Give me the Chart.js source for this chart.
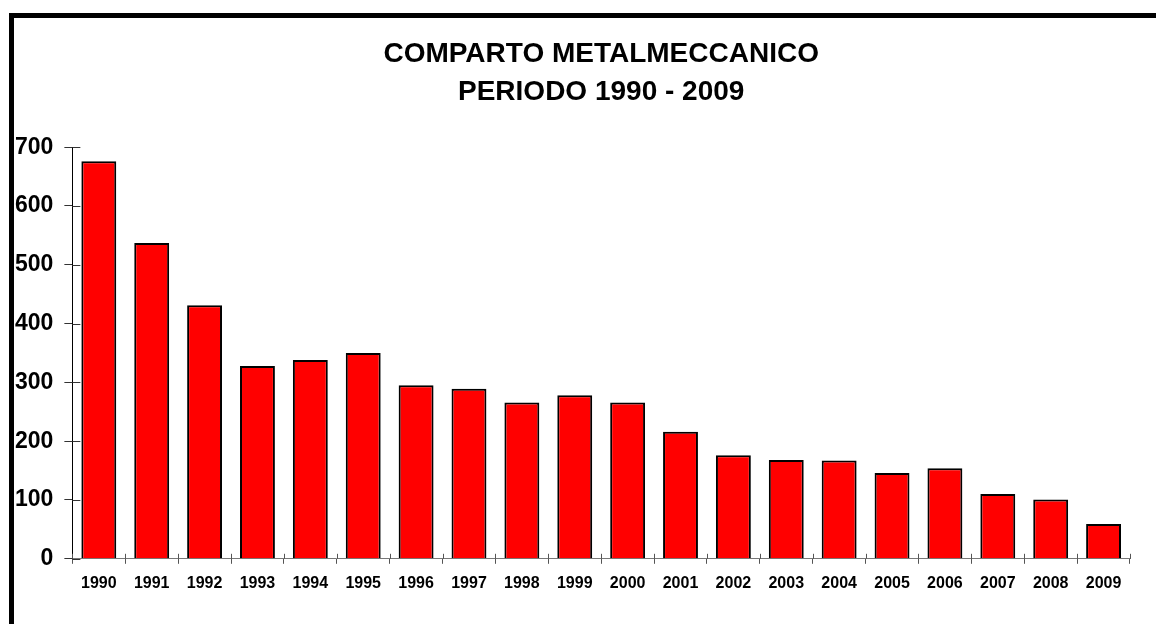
<!DOCTYPE html>
<html>
<head>
<meta charset="utf-8">
<script src="https://cdn.jsdelivr.net/npm/chart.js@4/dist/chart.umd.min.js"></script>
<style>
  html, body { margin: 0; padding: 0; background: #fff; }
  #wrap { position: absolute; left: 0; top: 0; width: 1156px; height: 624px; }
  #frame {
    position: absolute; left: 9px; top: 13px; width: 1200px; height: 700px;
    border-left: 5px solid #000; border-top: 5px solid #000; pointer-events: none;
  }
</style>
</head>
<body>
<div id="wrap"><canvas id="chart"></canvas></div>
<div id="frame"></div>
<script>
var years = ['1990', '1991', '1992', '1993', '1994', '1995', '1996', '1997', '1998', '1999',
             '2000', '2001', '2002', '2003', '2004', '2005', '2006', '2007', '2008', '2009'];
var values = [676, 537, 431, 328, 338, 350, 295, 289, 266, 278,
              266, 216, 176, 168, 167, 146, 154, 110, 101, 59];
var titleLines = ['COMPARTO METALMECCANICO', 'PERIODO 1990 - 2009'];
var yMax = 700;
var yStep = 100;

var font = '"Liberation Sans", Arial, sans-serif';

// tick marks that cross the axis line (Excel style)
var crossTicks = {
    id: 'crossTicks',
    afterDraw: function(chart) {
        var ctx = chart.ctx;
        var x = chart.scales.x, y = chart.scales.y;
        ctx.save();
        ctx.lineWidth = 1;
        ctx.strokeStyle = '#333';
        y.ticks.forEach(function(t, i) {
            var py = Math.round(y.getPixelForTick(i)) + 0.5;
            ctx.beginPath();
            ctx.moveTo(y.right, py);
            ctx.lineTo(y.right + 8, py);
            ctx.stroke();
        });
        ctx.strokeStyle = '#555';
        for (var i = 0; i <= years.length; i++) {
            var px = Math.round(x.left + (x.right - x.left) * i / years.length) + 0.5;
            ctx.beginPath();
            ctx.moveTo(px, x.top - 5);
            ctx.lineTo(px, x.top);
            ctx.stroke();
        }
        ctx.restore();
    }
};

new Chart(document.getElementById('chart'), {
    type: 'bar',
    data: {
        labels: years,
        datasets: [{
            data: values,
            backgroundColor: '#ff0000',
            borderColor: '#000000',
            borderWidth: 2,
            borderSkipped: 'bottom',
            barPercentage: 0.66,
            categoryPercentage: 1.0
        }]
    },
    options: {
        responsive: true,
        maintainAspectRatio: false,
        animation: false,
        layout: {
            padding: { left: 4, right: 26, top: 0, bottom: 21 }
        },
        plugins: {
            legend: { display: false },
            tooltip: { enabled: false },
            title: {
                display: true,
                fullSize: false,
                text: titleLines,
                color: '#000',
                font: { family: font, size: 28, weight: 'bold', lineHeight: 1.36 },
                padding: { top: 35, bottom: 36 }
            }
        },
        scales: {
            x: {
                offset: true,
                grid: {
                    offset: true,
                    drawOnChartArea: false,
                    drawTicks: true,
                    tickLength: 5,
                    color: '#555'
                },
                border: { display: true, color: '#777', width: 1 },
                ticks: {
                    color: '#000',
                    padding: 10,
                    maxRotation: 0,
                    autoSkip: false,
                    font: { family: font, size: 16, weight: 'bold' }
                }
            },
            y: {
                min: 0,
                max: yMax,
                grid: {
                    drawOnChartArea: false,
                    drawTicks: true,
                    tickLength: 8,
                    color: '#333'
                },
                border: { display: true, color: '#000', width: 1 },
                ticks: {
                    stepSize: yStep,
                    color: '#000',
                    padding: 11,
                    font: { family: font, size: 23, weight: 'bold' }
                }
            }
        }
    },
    plugins: [crossTicks]
});
</script>
</body>
</html>
